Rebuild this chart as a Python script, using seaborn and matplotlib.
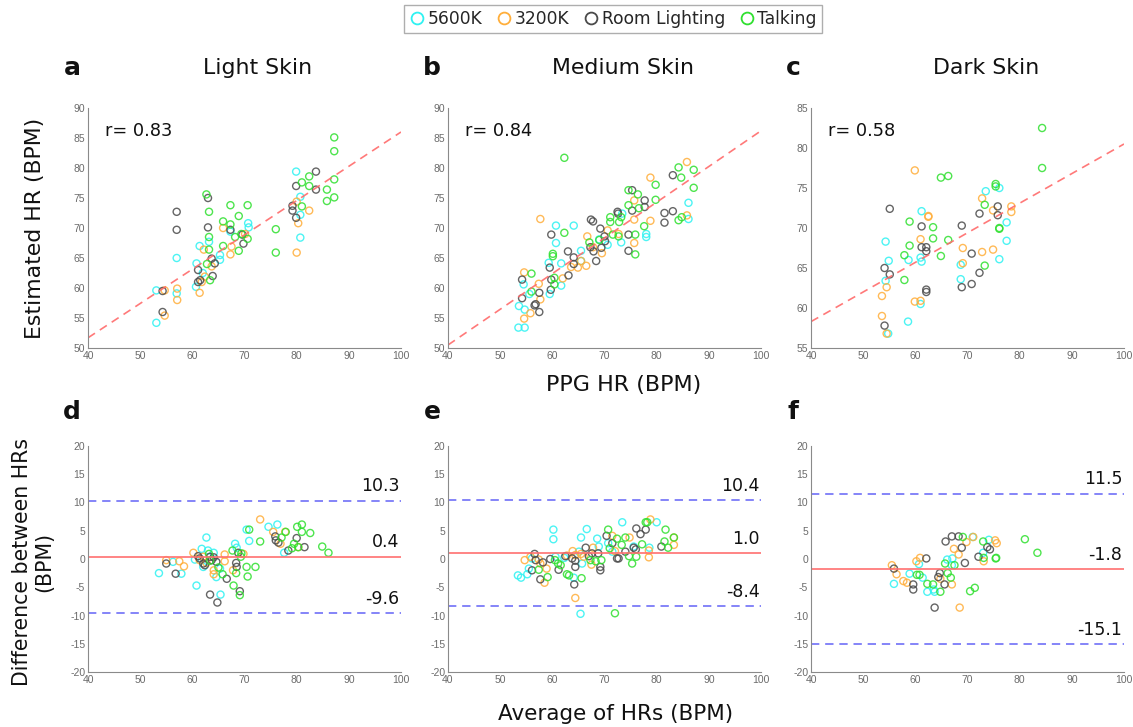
import matplotlib
matplotlib.use("Agg")
import matplotlib.pyplot as plt
from matplotlib.lines import Line2D
import numpy as np
import pandas as pd
import seaborn as sns

# ---------------- data ----------------
CONDITIONS = ["5600K", "3200K", "Room Lighting", "Talking"]
COLORS = ["#2EF2F2", "#FFAE3A", "#4A4A4A", "#2FE02F"]
SKINS = ["Light Skin", "Medium Skin", "Dark Skin"]
LETTERS_TOP = ["a", "b", "c"]
LETTERS_BOTTOM = ["d", "e", "f"]

# Estimated HR vs PPG HR, (PPG HR, estimated HR) pairs
light_5600 = [(53.1, 59.6), (53.1, 54.2), (57.0, 65.0), (57.0, 59.1), (61.4, 67.0), (60.8, 64.1),
              (60.7, 60.2), (63.2, 67.7), (65.3, 65.5), (65.3, 64.7), (67.3, 69.4), (70.7, 70.8),
              (70.8, 70.1), (79.9, 79.4), (80.7, 75.2), (80.7, 72.2), (80.7, 68.4), (62.0, 62.5)]
light_3200 = [(54.7, 59.6), (54.7, 55.4), (57.1, 59.9), (57.1, 58.0), (61.4, 59.2), (62.2, 66.4),
              (62.4, 61.9), (63.7, 63.6), (65.9, 70.0), (67.3, 65.6), (67.5, 66.9), (70.1, 69.0),
              (80.3, 70.8), (80.0, 65.9), (80.0, 74.4), (82.4, 72.9), (61.8, 61.0)]
light_room = [(54.3, 59.5), (54.3, 56.0), (57.0, 72.7), (57.0, 69.7), (63.0, 75.0), (63.0, 70.1),
              (61.1, 63.0), (61.1, 61.0), (61.5, 61.3), (63.7, 64.9), (64.3, 64.1), (63.9, 62.0),
              (67.3, 69.7), (69.8, 67.4), (69.6, 68.9), (79.2, 73.7), (79.2, 72.9), (79.9, 71.7),
              (79.9, 77.0), (83.7, 79.4), (83.7, 76.4)]
light_talk = [(62.7, 75.6), (63.2, 72.7), (63.2, 68.5), (63.2, 66.4), (63.4, 61.3), (65.9, 71.1),
              (65.9, 67.0), (67.3, 73.8), (67.3, 70.6), (68.2, 68.5), (68.9, 72.0), (68.9, 66.2),
              (69.4, 69.0), (70.6, 73.8), (70.6, 68.2), (76.0, 69.8), (76.0, 65.9), (81.0, 77.6),
              (81.0, 73.6), (82.4, 78.6), (82.4, 77.0), (85.8, 76.4), (85.8, 74.5), (87.2, 85.1),
              (87.2, 82.8), (87.2, 78.1), (87.2, 75.1), (62.8, 64.0)]

medium_5600 = [(53.5, 53.4), (54.7, 53.4), (53.6, 57.0), (54.7, 56.4), (54.5, 60.6), (55.6, 59.0),
               (59.3, 64.2), (59.5, 59.0), (60.7, 70.4), (60.7, 67.5), (61.7, 64.1), (61.7, 60.4),
               (64.1, 70.4), (65.5, 66.2), (65.5, 64.5), (69.0, 68.1), (70.6, 67.2), (73.2, 67.6),
               (73.4, 72.4), (78.0, 69.0), (78.0, 68.5), (86.1, 74.2), (86.1, 71.5)]
medium_3200 = [(54.6, 62.6), (54.6, 54.9), (55.8, 55.8), (57.4, 60.7), (57.7, 71.5), (57.7, 58.1),
               (62.0, 61.6), (63.6, 63.5), (64.9, 63.4), (65.5, 64.5), (66.5, 63.7), (66.7, 68.6),
               (67.8, 66.8), (69.5, 65.8), (70.6, 69.6), (72.7, 69.0), (75.7, 74.6), (75.7, 71.4),
               (75.7, 67.5), (78.8, 78.4), (78.8, 71.2), (85.8, 81.0), (85.8, 72.1)]
medium_room = [(54.2, 61.4), (54.2, 58.3), (56.6, 57.1), (56.8, 57.3), (57.5, 59.2), (57.5, 56.0),
               (59.8, 68.9), (59.5, 63.4), (59.7, 59.7), (59.8, 61.4), (63.0, 66.1), (63.1, 62.1),
               (64.1, 65.1), (64.1, 64.0), (67.4, 71.4), (67.8, 71.1), (67.3, 66.8), (67.9, 66.1),
               (68.4, 64.5), (69.2, 69.9), (69.4, 66.7), (70.0, 68.6), (70.1, 67.8), (72.5, 72.7),
               (72.6, 72.4), (74.6, 68.9), (74.6, 66.2), (75.3, 76.3), (75.3, 72.9), (77.7, 74.6),
               (77.7, 73.5), (81.5, 72.5), (81.5, 70.9), (83.1, 78.8), (83.1, 72.8)]
medium_talk = [(56.0, 62.4), (56.0, 59.4), (60.1, 65.7), (60.1, 65.3), (60.4, 61.7), (60.4, 60.6),
               (62.3, 69.2), (62.3, 81.7), (67.1, 67.6), (69.0, 68.0), (71.1, 71.8), (71.1, 71.0),
               (71.6, 68.9), (72.7, 68.6), (72.8, 71.0), (73.2, 71.8), (74.6, 76.3), (74.6, 73.8),
               (75.9, 68.9), (75.9, 65.6), (76.4, 75.6), (76.6, 73.3), (77.6, 70.3), (79.8, 74.7),
               (79.8, 77.2), (84.2, 80.1), (84.7, 78.4), (84.2, 71.3), (84.8, 71.8), (87.1, 79.7),
               (87.1, 76.7)]

dark_5600 = [(54.3, 68.3), (54.3, 63.4), (54.9, 65.9), (54.8, 56.8), (58.6, 58.3), (58.7, 66.0),
             (61.2, 72.1), (61.0, 66.3), (61.2, 65.8), (61.0, 60.5), (68.7, 65.4), (68.7, 63.6),
             (73.5, 74.6), (76.1, 75.0), (76.1, 66.1), (77.5, 70.7), (77.5, 68.4)]
dark_3200 = [(53.6, 61.5), (53.6, 59.0), (54.5, 62.6), (54.5, 56.8), (59.9, 77.2), (59.9, 60.8),
             (61.0, 60.9), (61.0, 68.6), (62.5, 71.5), (62.5, 71.4), (69.1, 67.5), (69.1, 65.6),
             (72.8, 73.7), (72.8, 67.0), (74.9, 72.2), (74.9, 67.3), (78.4, 72.7), (78.4, 72.0)]
dark_room = [(54.1, 65.0), (54.1, 57.8), (55.1, 72.4), (55.1, 64.2), (61.2, 70.2), (61.2, 67.6),
             (62.1, 67.6), (62.1, 67.1), (62.1, 62.3), (62.1, 62.0), (68.9, 70.3), (68.9, 62.6),
             (70.8, 66.8), (70.8, 63.0), (72.3, 71.8), (72.3, 64.4), (75.8, 72.7), (75.8, 71.6)]
dark_talk = [(57.9, 66.6), (57.9, 63.5), (58.9, 70.8), (58.9, 67.8), (63.4, 70.1), (63.4, 68.7),
             (64.9, 76.3), (64.9, 66.5), (66.3, 76.5), (66.3, 68.5), (73.3, 72.9), (73.3, 65.3),
             (75.4, 75.5), (75.4, 75.2), (76.1, 70.0), (76.1, 69.9), (84.3, 82.5), (84.3, 77.5)]

# Bland-Altman, (average of HRs, difference) pairs
ba_light_5600 = [(53.6, -2.5), (56.3, -0.5), (57.9, -2.6), (60.8, -4.7), (60.5, -0.1), (61.8, 1.8),
                 (62.1, -1.4), (62.7, 3.8), (63.0, 1.5), (64.1, 1.1), (64.6, -3.2), (65.4, -6.3),
                 (65.3, -1.7), (68.2, 2.7), (68.5, 2.0), (70.4, 5.2), (70.9, 3.2), (74.6, 5.7),
                 (76.3, 6.1), (77.6, 1.1)]
ba_light_3200 = [(55.0, -0.2), (57.5, -0.4), (58.4, -1.3), (60.2, 1.1), (61.4, -0.2), (62.1, 0.4),
                 (62.7, -0.7), (64.1, -2.0), (64.1, -2.7), (66.2, 0.8), (66.2, -0.4), (67.8, -2.0),
                 (69.8, 0.9), (73.0, 7.0), (75.5, 4.8), (76.9, 2.7), (77.8, 4.8), (80.3, 2.1)]
ba_light_room = [(55.0, -0.8), (56.8, -2.6), (61.1, 0.5), (61.4, 0.1), (62.1, -0.8), (62.4, -1.1),
                 (63.4, 0.4), (63.7, -0.2), (63.4, -6.3), (64.1, 0.3), (64.6, -0.5), (64.8, -7.7),
                 (66.6, -3.5), (68.4, -0.7), (68.5, -1.4), (68.8, 1.1), (69.1, -5.7), (75.9, 4.0),
                 (76.0, 3.3), (76.5, 2.9), (78.4, 1.5), (80.0, 3.7), (81.5, 2.1)]
ba_light_talk = [(63.2, 0.9), (63.4, -0.3), (65.0, -1.5), (65.8, -2.7), (67.7, 1.5), (67.9, -4.7),
                 (68.4, -2.5), (69.1, -6.4), (69.3, 0.4), (69.4, 1.0), (70.4, -1.4), (70.6, -3.1),
                 (70.9, 5.2), (72.1, -1.4), (73.0, 3.1), (77.1, 3.8), (77.9, 4.8), (79.1, 1.9),
                 (79.5, 2.7), (80.1, 5.7), (80.3, 2.1), (81.0, 6.1), (81.0, 4.8), (82.6, 4.6),
                 (84.9, 2.2), (86.1, 1.1)]

ba_medium_5600 = [(53.4, -2.9), (54.0, -3.3), (55.2, -2.7), (55.5, -1.7), (56.1, 0.1), (60.2, 5.2),
                  (60.2, 3.5), (60.6, 0.4), (62.3, 0.2), (64.1, -3.3), (65.4, -9.7), (65.5, 3.8),
                  (66.6, 5.3), (65.7, -0.8), (65.1, 1.3), (68.6, 3.6), (68.9, 2.2), (70.7, 2.8),
                  (73.4, 6.5), (75.6, 2.2), (78.6, 2.0), (80.0, 6.5), (71.5, 1.3)]
ba_medium_3200 = [(54.7, -0.2), (55.8, 0.4), (57.4, -0.1), (58.5, -4.2), (58.9, -1.7), (57.7, -0.8),
                  (62.8, 0.6), (63.9, 1.4), (64.4, -6.9), (64.4, 0.7), (65.5, 0.9), (66.0, 0.4),
                  (67.5, -1.0), (67.8, 2.0), (71.5, 4.1), (72.0, 1.4), (74.8, 3.8), (78.5, 1.5),
                  (78.5, 0.3), (78.8, 7.0), (83.3, 3.8), (83.3, 2.5)]
ba_medium_room = [(56.6, 0.9), (56.8, -0.2), (56.1, -2.0), (57.7, -3.6), (58.2, -0.6), (59.6, 0.0),
                  (61.2, -1.9), (62.5, 0.5), (63.8, 0.1), (64.2, -4.5), (64.4, -0.3), (64.4, -1.4),
                  (66.4, 2.0), (67.0, 0.5), (67.6, 1.0), (68.8, 1.0), (69.2, -1.4), (69.2, -2.0),
                  (70.4, 4.1), (71.5, 2.8), (72.4, 0.1), (72.7, 0.1), (74.0, 1.3), (75.6, 2.0),
                  (76.1, 5.4), (76.9, 4.4), (77.9, 5.2), (76.0, 1.7), (80.9, 2.2)]
ba_medium_talk = [(57.4, -1.9), (59.1, -3.2), (60.5, -0.2), (61.1, -0.8), (61.6, -1.1), (62.8, -2.7),
                  (63.2, -2.9), (65.6, -3.4), (67.3, -0.2), (68.3, -0.4), (69.4, -0.2), (70.7, 5.2),
                  (71.0, 1.9), (72.0, -9.6), (72.4, 3.6), (73.3, 2.5), (74.0, 3.8), (74.7, 0.5),
                  (75.3, -0.8), (77.2, 2.6), (77.9, 6.5), (78.2, 6.5), (81.7, 5.2), (81.5, 3.1),
                  (82.2, 2.0), (83.3, 3.8), (76.1, 0.4)]

ba_dark_5600 = [(55.9, -4.4), (58.9, -2.6), (60.7, -0.9), (61.4, -3.3), (62.3, -5.8), (63.5, -5.4),
                (63.7, -5.8), (66.1, -0.1), (67.1, 0.1), (67.0, -1.1), (71.0, 3.9), (73.0, 1.1),
                (74.1, 3.4)]
ba_dark_3200 = [(55.5, -1.1), (56.4, -2.7), (57.7, -3.9), (58.4, -4.2), (60.2, -0.4), (60.9, 0.2),
                (64.8, -3.5), (67.0, -4.5), (67.4, 1.8), (68.3, 0.8), (68.5, -8.6), (69.8, 3.0),
                (71.1, 3.9), (73.1, -0.4), (75.3, 3.3), (75.6, 2.8)]
ba_dark_room = [(55.9, -1.7), (59.6, -4.5), (59.6, -5.4), (62.1, 0.1), (63.7, -8.6), (64.4, -3.2),
                (64.7, -2.5), (65.6, -4.5), (65.8, 3.1), (67.0, 4.0), (68.3, 4.0), (68.9, 2.0),
                (69.5, -0.7), (72.1, 0.4), (73.8, 2.1), (74.3, 1.7)]
ba_dark_talk = [(60.3, -2.8), (60.8, -2.8), (62.3, -4.4), (63.4, -4.5), (64.8, -5.8), (65.7, -0.8),
                (66.2, -2.5), (66.8, -3.3), (67.5, -1.1), (69.1, 3.9), (70.5, -5.7), (71.4, -5.1),
                (73.0, 3.1), (73.1, 0.2), (75.4, 0.1), (75.5, 0.2), (81.0, 3.5), (83.4, 1.1)]

# correlation coefficients and fitted line (value at x=40, value at x=100)
R_VALUES = [0.83, 0.84, 0.58]
FIT_AT_40 = [51.7, 50.5, 58.3]
FIT_AT_100 = [86.0, 86.2, 80.5]
TOP_YLIMS = [(50, 90), (50, 90), (55, 85)]

# Bland-Altman mean bias and limits of agreement
BIAS = [0.4, 1.0, -1.8]
UPPER_LOA = [10.3, 10.4, 11.5]
LOWER_LOA = [-9.6, -8.4, -15.1]

top_sets = [[light_5600, light_3200, light_room, light_talk],
            [medium_5600, medium_3200, medium_room, medium_talk],
            [dark_5600, dark_3200, dark_room, dark_talk]]
bottom_sets = [[ba_light_5600, ba_light_3200, ba_light_room, ba_light_talk],
               [ba_medium_5600, ba_medium_3200, ba_medium_room, ba_medium_talk],
               [ba_dark_5600, ba_dark_3200, ba_dark_room, ba_dark_talk]]


def to_frame(groups):
    rows = []
    for cond, pts in zip(CONDITIONS, groups):
        for x, y in pts:
            rows.append({"x": x, "y": y, "cond": cond})
    return pd.DataFrame(rows)


# ---------------- style ----------------
sns.set_theme(style="white")
plt.rcParams["font.family"] = ["DejaVu Sans"]
plt.rcParams["axes.unicode_minus"] = False

W, H = 1133, 727
fig = plt.figure(figsize=(W / 100, H / 100), dpi=100)
fig.patch.set_facecolor("white")

col_left = [88, 448, 811]
col_width = 313
top_rect = (108, 348)
bottom_rect = (446, 672)

palette = dict(zip(CONDITIONS, COLORS))
TICK_GRAY = "#6b6b6b"
SPINE_GRAY = "#8a8a8a"
TEXT = "#111111"


def make_axes(left, top, bottom):
    return fig.add_axes([left / W, 1 - bottom / H, col_width / W, (bottom - top) / H])


def style_axes(ax):
    for side in ("top", "right"):
        ax.spines[side].set_visible(False)
    for side in ("left", "bottom"):
        ax.spines[side].set_color(SPINE_GRAY)
        ax.spines[side].set_linewidth(0.8)
    ax.tick_params(direction="in", length=3, width=0.7, colors=SPINE_GRAY,
                   labelcolor=TICK_GRAY, labelsize=7.5, pad=2)
    for lab in ax.get_xticklabels() + ax.get_yticklabels():
        lab.set_family("Liberation Sans")
    ax.set_xlabel("")
    ax.set_ylabel("")
    ax.grid(False)


def draw_points(ax, df):
    n_before = len(ax.collections)
    sns.scatterplot(data=df, x="x", y="y", hue="cond", palette=palette,
                    hue_order=CONDITIONS, s=26, linewidth=0, legend=False, ax=ax)
    for coll in ax.collections[n_before:]:
        fc = coll.get_facecolors()
        coll.set_edgecolors(fc)
        coll.set_facecolors("none")
        coll.set_linewidths(1.0)
        coll.set_alpha(0.85)


for i in range(3):
    # correlation panels
    ax = make_axes(col_left[i], *top_rect)
    ax.set_facecolor("white")
    fit = pd.DataFrame({"x": [40, 100], "y": [FIT_AT_40[i], FIT_AT_100[i]]})
    sns.lineplot(data=fit, x="x", y="y", color="#ff6b6b", linewidth=1.2,
                 dashes=False, ax=ax)
    ax.lines[-1].set_dashes([5, 3.5])
    ax.lines[-1].set_alpha(0.9)
    draw_points(ax, to_frame(top_sets[i]))
    ax.set_xlim(40, 100)
    ax.set_ylim(*TOP_YLIMS[i])
    ax.set_xticks(np.arange(40, 101, 10))
    ax.set_yticks(np.arange(TOP_YLIMS[i][0], TOP_YLIMS[i][1] + 1, 5))
    style_axes(ax)
    ax.text(0.053, 0.904, f"r= {R_VALUES[i]:.2f}", transform=ax.transAxes,
            fontsize=12.8, color=TEXT, va="center", ha="left")

    # Bland-Altman panels
    bx = make_axes(col_left[i], *bottom_rect)
    bx.set_facecolor("white")
    bx.axhline(UPPER_LOA[i], color="#6f6ff7", lw=1.2, dashes=(5, 3.5))
    bx.axhline(LOWER_LOA[i], color="#6f6ff7", lw=1.2, dashes=(5, 3.5))
    bx.axhline(BIAS[i], color="#ff7070", lw=1.2)
    draw_points(bx, to_frame(bottom_sets[i]))
    bx.set_xlim(40, 100)
    bx.set_ylim(-20, 20)
    bx.set_xticks(np.arange(40, 101, 10))
    bx.set_yticks(np.arange(-20, 21, 5))
    style_axes(bx)
    for val in (UPPER_LOA[i], BIAS[i], LOWER_LOA[i]):
        bx.text(0.995, val + 1.0, f"{val:.1f}", transform=bx.get_yaxis_transform(),
                ha="right", va="bottom", fontsize=12.5, color=TEXT)

# panel letters and titles
letter_x = [72, 432, 793]
title_x = [258, 623, 986]
for i in range(3):
    fig.text(letter_x[i] / W, 1 - 68 / H, LETTERS_TOP[i], fontsize=18, fontweight="bold",
             ha="center", va="center", color=TEXT)
    fig.text(title_x[i] / W, 1 - 68 / H, SKINS[i], fontsize=15.8,
             ha="center", va="center", color=TEXT)
    fig.text(letter_x[i] / W, 1 - 412 / H, LETTERS_BOTTOM[i], fontsize=18, fontweight="bold",
             ha="center", va="center", color=TEXT)

fig.text(35 / W, 1 - 228 / H, "Estimated HR (BPM)", rotation=90, fontsize=15.8,
         ha="center", va="center", color=TEXT)
fig.text(624 / W, 1 - 385 / H, "PPG HR (BPM)", fontsize=16,
         ha="center", va="center", color=TEXT)
fig.text(33 / W, 1 - 562 / H, "Difference between HRs\n(BPM)", rotation=90, fontsize=14.8,
         ha="center", va="center", color=TEXT, linespacing=1.1, multialignment="center")
fig.text(616 / W, 1 - 714 / H, "Average of HRs (BPM)", fontsize=15.5,
         ha="center", va="center", color=TEXT)

# legend
handles = [Line2D([], [], marker="o", linestyle="none", markerfacecolor="none",
                  markeredgecolor=c, markersize=8.5, markeredgewidth=1.3) for c in COLORS]
leg = fig.legend(handles, CONDITIONS, loc="center", bbox_to_anchor=(613 / W, 1 - 19 / H),
                 ncol=4, frameon=True, fancybox=False, fontsize=12.3, handlelength=0.85,
                 handletextpad=0.2, columnspacing=0.85, borderpad=0.3, borderaxespad=0)
leg.get_frame().set_edgecolor("#9a9a9a")
leg.get_frame().set_linewidth(1.0)

fig.savefig("out.png", dpi=100, facecolor="white")
